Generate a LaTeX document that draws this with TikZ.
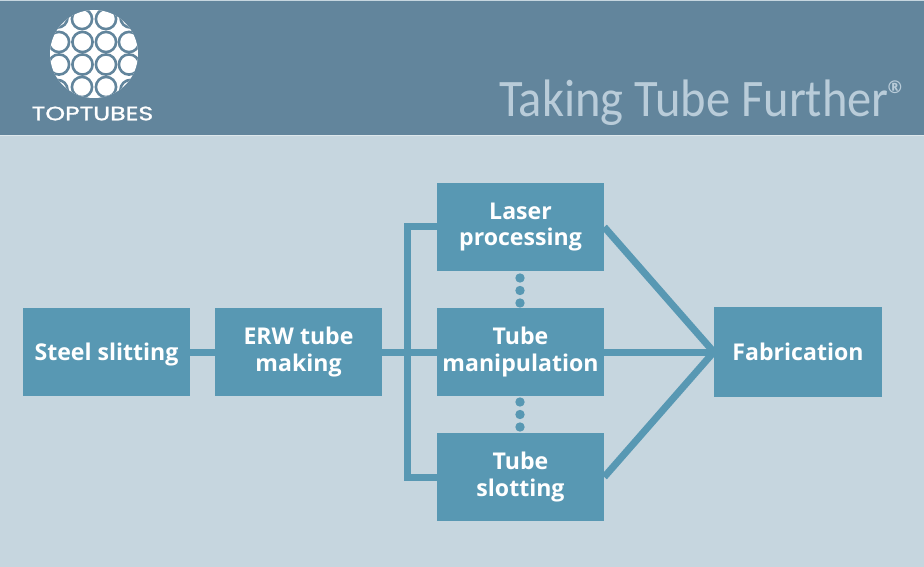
\documentclass[tikz,border=0pt]{standalone}
\usepackage{xcolor}
\usepackage{fontspec}
\setmainfont{Open Sans}
\newfontfamily\titlefont{Carlito}
\newfontfamily\logofont[FakeBold=1.2]{Poppins}
\definecolor{headerblue}{HTML}{62859C}
\definecolor{paleblue}{HTML}{C6D6DF}
\definecolor{boxblue}{HTML}{5898B3}
\definecolor{titlegrey}{HTML}{B9CCD9}
\tikzset{
	stepbox/.style = {align=center, inner sep=0pt, text centered, font=\fontsize{19.7}{22.5}\selectfont\bfseries, text=white, fill=boxblue, minimum width=167*0.03cm, minimum height=88*0.03cm},
	link/.style = {draw=boxblue, line width=7*0.03cm},
	stepdot/.style = {circle, fill=boxblue, inner sep=0pt, minimum size=9.4*0.03cm},
	ring/.style = {draw=headerblue, line width=2.6*0.03cm},
}

\begin{document}
\begin{tikzpicture}[x=0.03cm, y=-0.03cm]
	\useasboundingbox (0,0) rectangle (924,567);
	\fill[paleblue] (0,0) rectangle (924,567);
	\fill[headerblue] (0,1) rectangle (924,135);
	\fill[paleblue!60!white] (0,135) rectangle (924,136.5);

	% logo
	\begin{scope}
		\fill[white] (94,54) circle (44);
		\clip (94,54) circle (44);
		\foreach \cx in {57.5,130.5} {
			\draw[ring] (\cx,17.5) circle (10.1);
			\draw[ring] (\cx,90) circle (10.1);
		}
		\foreach \cx in {82,106} {
			\draw[ring] (\cx,19) circle (10.1);
			\draw[ring] (\cx,87) circle (10.1);
		}
		\foreach \cx in {59,82.5,106,129} {
			\draw[ring] (\cx,42) circle (10.1);
			\draw[ring] (\cx,64.5) circle (10.1);
		}
	\end{scope}
	\node[font=\logofont\fontsize{16.5}{16.5}\selectfont, text=white, inner sep=0pt, xscale=1.3] (brand) at (92.5,113.5) {TOPTUBES};

	% title
	\node[font=\titlefont\fontsize{45}{45}\selectfont, text=titlegrey, inner sep=0pt, anchor=base east, xscale=0.92] (slogan) at (889,117) {Taking Tube Further};
	\node[font=\bfseries\fontsize{15}{15}\selectfont, text=titlegrey, inner sep=0pt] (mark) at (895,87) {\textregistered};

	\coordinate (bus) at (407,352);

	% boxes first, the links stop at their borders
	\node[stepbox, text depth=0pt] (slit) at (106.5,352) {Steel slitting};
	\node[stepbox] (erw) at (298.5,352) {ERW tube\\making};
	\node[stepbox] (laser) at (520.5,227) {Laser\\processing};
	\node[stepbox] (manip) at (520.5,352) {Tube\\manipulation};
	\node[stepbox] (slot) at (520.5,477) {Tube\\slotting};
	\node[stepbox, minimum width=168*0.03cm, minimum height=90*0.03cm] (fab) at (798,352) {Fabrication};

	\draw[link] (slit) -- (erw);
	\draw[link] (erw) -- (manip);
	\draw[link] (laser.west) -| (bus) |- (slot.west);
	\draw[link] (laser.east) -- (fab.west);
	\draw[link] (manip) -- (fab);
	\draw[link] (slot.east) -- (fab.west);

	\foreach \dy [count=\i] in {278,290.5,303} {
		\node[stepdot] (upper\i) at (520,\dy) {};
	}
	\foreach \dy [count=\i] in {402,414.5,427} {
		\node[stepdot] (lower\i) at (520,\dy) {};
	}
\end{tikzpicture}
\end{document}
